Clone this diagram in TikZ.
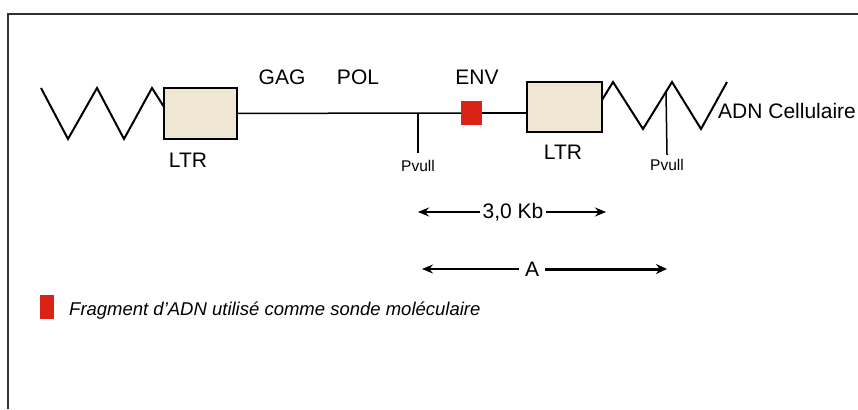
\documentclass[tikz,border=0pt]{standalone}
\usepackage{fontspec}
\setmainfont{Liberation Sans}
\usetikzlibrary{arrows.meta}
\definecolor{ltrfill}{RGB}{240,230,212}
\definecolor{probe}{RGB}{218,34,22}
\definecolor{framec}{RGB}{50,50,50}
\begin{document}
\begin{tikzpicture}[x=1pt,y=-1pt,
  lbl/.style={inner sep=0pt, font=\fontsize{21}{24}\selectfont},
  small/.style={inner sep=0pt, font=\fontsize{15.5}{18}\selectfont},
  ltrbox/.style={draw, line width=1.5pt, fill=ltrfill, inner sep=0pt},
  probebox/.style={fill=probe, inner sep=0pt},
  zig/.style={line width=2pt, line join=miter},
  dna/.style={line width=1.5pt},
  arr/.style={line width=1.5pt, -{Stealth[length=11pt,width=9pt]}}]
\useasboundingbox (0,0) rectangle (858,409);
\draw[framec, line width=2pt] (8,409) -- (8,14) -- (858,14);
% boxes
\node[ltrbox, minimum width=73pt, minimum height=51pt] (ltrL) at (200.5,113.5) {};
\node[ltrbox, minimum width=75pt, minimum height=50pt] (ltrR) at (564.5,107) {};
\node[probebox, minimum width=21pt, minimum height=24pt] (env) at (471.5,113) {};
% labels
\node[lbl] (ltrLl) at (188,160) {LTR};
\node[lbl] (ltrRl) at (563,152) {LTR};
\node[lbl] (gag) at (282,77) {GAG};
\node[lbl] (pol) at (358,77) {POL};
\node[lbl] (envl) at (477,77) {ENV};
\node[lbl, anchor=west] (adn) at (718,111) {ADN Cellulaire};
% main line
\coordinate (p1) at (418,113);
\draw[dna] (ltrL.east) -- (p1) -- (env.west);
\draw[dna] (env.east) -- (env.east -| ltrR.west);
% left zigzag
\draw[zig] (41,88) -- (68,139) -- (97,88) -- (124,139) -- (152,88) -- (164,107);
% right zigzag
\draw[zig] (602,100) -- (613,82) -- (643,129) -- (672,82) -- (701,129) -- (727,82);
% Pvull
\node[small] (pv1) at (418,166) {Pvull};
\node[small] (pv2) at (667,165) {Pvull};
\draw[dna] (p1) -- (pv1.north |- 0,153);
\draw[dna] (666,92) -- (pv2.north |- 0,155);
% 3,0 Kb
\node[lbl] (kb) at (513,212) {3,0 Kb};
\coordinate (kbL) at (418,212);
\coordinate (kbR) at (606,212);
\draw[arr] ([xshift=-2pt]kb.west) -- (kbL);
\draw[arr] ([xshift=2pt]kb.east) -- (kbR);
% A
\node[lbl] (a) at (532,269) {A};
\coordinate (aL) at (422,269);
\coordinate (aR) at (667,269);
\draw[arr] ([xshift=-6pt]a.west) -- (aL);
\draw[line width=3pt, -{Stealth[length=11pt,width=10pt]}] ([xshift=6pt]a.east) -- (aR);
% legend
\node[probebox, minimum width=14pt, minimum height=24pt] (leg) at (47,307) {};
\node[lbl, anchor=west, font=\fontsize{18.5}{21}\selectfont\itshape] (legt) at (69,311) {Fragment d'ADN utilisé comme sonde moléculaire};
\end{tikzpicture}
\end{document}
